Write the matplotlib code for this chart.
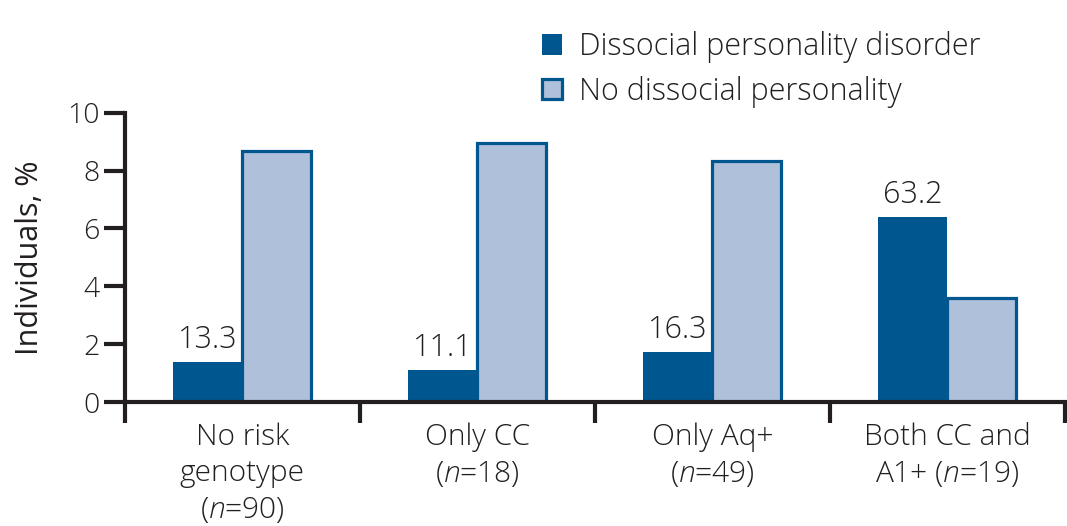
import matplotlib
matplotlib.use('Agg')
import matplotlib.pyplot as plt
from matplotlib.patches import Patch
import numpy as np

plt.rcParams['font.family'] = ['Open Sans', 'DejaVu Sans']
plt.rcParams['font.weight'] = 'light'
plt.rcParams['mathtext.fontset'] = 'custom'
plt.rcParams['mathtext.it'] = 'Open Sans:italic:light'
plt.rcParams['mathtext.rm'] = 'Open Sans:light'

categories = ['No risk\ngenotype\n($\\it{n}$=90)', 'Only CC\n($\\it{n}$=18)',
              'Only Aq+\n($\\it{n}$=49)', 'Both CC and\nA1+ ($\\it{n}$=19)']
dissocial = [1.39, 1.11, 1.73, 6.40]
no_dissocial = [8.68, 8.95, 8.32, 3.60]
bar_labels = ['13.3', '11.1', '16.3', '63.2']
series_names = ['Dissocial personality disorder', 'No dissocial personality']

dark = '#00568f'
light = '#afc0db'
txt = '#231f20'

fig = plt.figure(figsize=(10.67, 5.26), dpi=100)
ax = fig.add_axes([0.117, 0.2357, 0.881, 0.55])

x = np.arange(len(categories))
w = 0.294
ax.bar(x - w / 2, dissocial, w, color=dark, edgecolor=dark, linewidth=0)
ax.bar(x + w / 2, no_dissocial, w, color=light, edgecolor=dark, linewidth=2.3)

for xi, v, lab in zip(x, dissocial, bar_labels):
    ax.text(xi - w / 2, v + 0.2, lab, ha='center', va='bottom',
            fontsize=22, color=txt)

ax.set_xlim(-0.5, 3.5)
ax.set_ylim(0, 10)
ax.set_yticks(range(0, 11, 2))
ax.set_xticks(x)
ax.set_xticklabels(categories, fontsize=21.5, color=txt, linespacing=1.28)
ax.set_xticks(np.arange(-0.5, 4, 1), minor=True)
ax.tick_params(axis='x', which='major', length=0, pad=15)
ax.tick_params(axis='x', which='minor', length=15, width=3, direction='out', color=txt)
ax.tick_params(axis='y', length=15, width=3, direction='out', color=txt,
               labelsize=20.5, labelcolor=txt, pad=3)

for s in ['top', 'right']:
    ax.spines[s].set_visible(False)
for s in ['left', 'bottom']:
    ax.spines[s].set_linewidth(3)
    ax.spines[s].set_color(txt)

ax.set_ylabel('Individuals, %', fontsize=22, color=txt, labelpad=16)

handles = [Patch(facecolor=dark, edgecolor=dark, linewidth=0),
           Patch(facecolor=light, edgecolor=dark, linewidth=2.3)]
fig.legend(handles, series_names, loc='upper left',
           bbox_to_anchor=(0.494, 0.97), frameon=False, fontsize=22,
           handlelength=0.65, handleheight=0.65, handletextpad=0.55,
           labelspacing=0.42, borderpad=0, labelcolor=txt)

fig.savefig('out.png', dpi=100)
